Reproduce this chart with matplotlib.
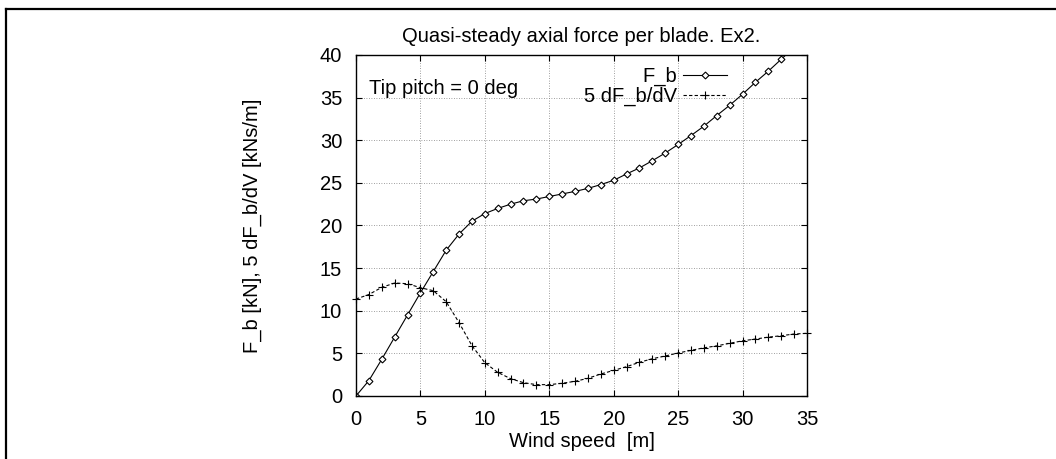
import matplotlib.pyplot as plt
from matplotlib.lines import Line2D
import numpy as np

plt.rcParams['font.family'] = ['Liberation Sans', 'DejaVu Sans']

wind = np.arange(0, 36)
# axial force per blade [kN]
f_b = [0.0, 1.8, 4.3, 6.9, 9.5, 12.1, 14.6, 17.1, 19.0, 20.5,
       21.4, 22.0, 22.5, 22.9, 23.1, 23.4, 23.7, 24.0, 24.35, 24.8,
       25.3, 26.05, 26.75, 27.6, 28.5, 29.5, 30.55, 31.65, 32.9, 34.1,
       35.4, 36.8, 38.1, 39.5, 40.9, 42.3]
# 5 * dF_b/dV [kNs/m]
df_b = [11.37, 11.9, 12.74, 13.25, 13.17, 12.7, 12.35, 11.06, 8.6, 5.9,
        3.9, 2.77, 2.03, 1.56, 1.33, 1.33, 1.49, 1.72, 2.07, 2.58,
        3.0, 3.44, 3.95, 4.37, 4.69, 5.04, 5.35, 5.65, 5.88, 6.18,
        6.47, 6.68, 6.9, 7.07, 7.27, 7.35]

fs = 14.5

fig = plt.figure(figsize=(10.56, 4.59), dpi=100)
ax = fig.add_axes([0.3371, 0.1373, 0.4271, 0.7429])

ax.plot(wind, f_b, color='black', lw=0.8, marker='D', ms=3.5,
        mfc='white', mew=0.8, label='F_b')
ax.plot(wind, df_b, color='black', lw=0.8, ls=(0, (3, 2)), marker='+',
        ms=6, mew=0.8, label='5 dF_b/dV', clip_on=False)

ax.set_xlim(0, 35)
ax.set_ylim(0, 40)
ax.set_xticks(np.arange(0, 36, 5))
ax.set_yticks(np.arange(0, 41, 5))
ax.grid(True, color='#808080', lw=0.6, ls=(0, (1, 2)))
ax.tick_params(direction='in', length=4, top=True, right=True,
               labelsize=fs, color='black')
ax.tick_params(axis='y', pad=10)
ax.tick_params(axis='x', pad=10)
for s in ax.spines.values():
    s.set_linewidth(1.0)

ax.set_title('Quasi-steady axial force per blade. Ex2.', fontsize=fs, pad=9)
ax.set_xlabel('Wind speed  [m]', fontsize=fs, labelpad=2)
ax.set_ylabel('F_b [kN], 5 dF_b/dV [kNs/m]', fontsize=fs)
ax.yaxis.set_label_coords(-0.208, 0.5)

ax.text(0.029, 0.903, 'Tip pitch = 0 deg', transform=ax.transAxes,
        fontsize=fs, ha='left', va='center')

ax.legend(loc='upper right', bbox_to_anchor=(0.8226, 0.965), frameon=False,
          markerfirst=False, numpoints=1, fontsize=fs, handlelength=2.2,
          handletextpad=0.3, borderpad=0, borderaxespad=0, labelspacing=0.05)

# outer frame (cropped at right and bottom)
fig.add_artist(Line2D([6 / 1056, 6 / 1056], [0, 1 - 9 / 459],
                      transform=fig.transFigure, color='black', lw=1.6))
fig.add_artist(Line2D([6 / 1056, 1], [1 - 9 / 459, 1 - 9 / 459],
                      transform=fig.transFigure, color='black', lw=1.6))

fig.savefig('out.png', dpi=100)
